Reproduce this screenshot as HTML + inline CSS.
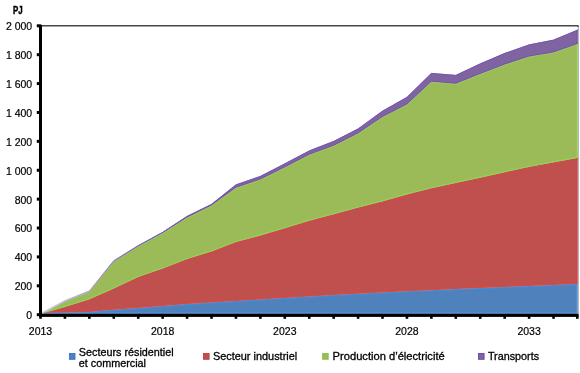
<!DOCTYPE html>
<html><head><meta charset="utf-8"><style>
html,body{margin:0;padding:0;background:#fff;width:580px;height:373px;overflow:hidden}
svg{position:absolute;left:0;top:0;will-change:transform}
.ax{font-family:"Liberation Sans",sans-serif;font-size:10.5px;fill:#000;stroke:#000;stroke-width:0.2px}
.lg{font-family:"Liberation Sans",sans-serif;font-size:10.8px;fill:#000;stroke:#000;stroke-width:0.3px}
.pj{font-family:"Liberation Sans",sans-serif;font-size:10.4px;font-weight:bold;fill:#000;stroke:#000;stroke-width:0.45px}
</style></head><body>
<svg width="580" height="373" viewBox="0 0 580 373">
<defs><linearGradient id="pg" gradientUnits="userSpaceOnUse" x1="40" y1="0" x2="180" y2="0"><stop offset="0" stop-color="#d6c8ee"/><stop offset="0.35" stop-color="#b8a0dc"/><stop offset="0.6" stop-color="#8c6ec2"/><stop offset="1" stop-color="#7650b0"/></linearGradient></defs>
<polygon points="40.5,314.0 64.9,312.8 89.4,311.9 113.8,309.7 138.2,308.0 162.7,306.0 187.1,304.0 211.5,302.5 235.9,301.0 260.4,299.5 284.8,298.0 309.2,296.5 333.7,295.0 358.1,293.8 382.5,292.5 406.9,291.3 431.4,290.2 455.8,289.0 480.2,288.0 504.7,287.0 529.1,286.0 553.5,285.0 577.6,284.0 577.6,314.0 553.5,314.0 529.1,314.0 504.7,314.0 480.2,314.0 455.8,314.0 431.4,314.0 406.9,314.0 382.5,314.0 358.1,314.0 333.7,314.0 309.2,314.0 284.8,314.0 260.4,314.0 235.9,314.0 211.5,314.0 187.1,314.0 162.7,314.0 138.2,314.0 113.8,314.0 89.4,314.0 64.9,314.0 40.5,314.0" fill="#4f81bd"/>
<polygon points="40.5,314.0 64.9,307.0 89.4,299.3 113.8,288.5 138.2,277.0 162.7,268.5 187.1,259.0 211.5,251.5 235.9,242.0 260.4,235.5 284.8,228.3 309.2,220.8 333.7,214.3 358.1,207.6 382.5,201.4 406.9,194.5 431.4,188.3 455.8,183.0 480.2,177.7 504.7,172.2 529.1,166.9 553.5,162.4 577.6,158.0 577.6,284.0 553.5,285.0 529.1,286.0 504.7,287.0 480.2,288.0 455.8,289.0 431.4,290.2 406.9,291.3 382.5,292.5 358.1,293.8 333.7,295.0 309.2,296.5 284.8,298.0 260.4,299.5 235.9,301.0 211.5,302.5 187.1,304.0 162.7,306.0 138.2,308.0 113.8,309.7 89.4,311.9 64.9,312.8 40.5,314.0" fill="#c0504d"/>
<polygon points="40.5,314.0 64.9,301.2 89.4,291.4 113.8,261.2 138.2,246.2 162.7,233.0 187.1,217.5 211.5,205.5 235.9,187.8 260.4,179.5 284.8,167.4 309.2,154.8 333.7,145.8 358.1,133.4 382.5,117.0 406.9,104.5 431.4,81.7 455.8,83.8 480.2,74.0 504.7,64.6 529.1,56.6 553.5,52.5 577.6,44.0 577.6,158.0 553.5,162.4 529.1,166.9 504.7,172.2 480.2,177.7 455.8,183.0 431.4,188.3 406.9,194.5 382.5,201.4 358.1,207.6 333.7,214.3 309.2,220.8 284.8,228.3 260.4,235.5 235.9,242.0 211.5,251.5 187.1,259.0 162.7,268.5 138.2,277.0 113.8,288.5 89.4,299.3 64.9,307.0 40.5,314.0" fill="#9bbb59"/>
<polygon points="40.5,314.0 64.9,300.8 89.4,291.0 113.8,260.8 138.2,245.5 162.7,232.0 187.1,216.0 211.5,204.0 235.9,184.5 260.4,176.0 284.8,163.4 309.2,150.6 333.7,141.0 358.1,128.6 382.5,110.8 406.9,97.0 431.4,73.0 455.8,75.0 480.2,63.5 504.7,53.1 529.1,44.5 553.5,39.7 577.6,29.7 577.6,44.0 553.5,52.5 529.1,56.6 504.7,64.6 480.2,74.0 455.8,83.8 431.4,81.7 406.9,104.5 382.5,117.0 358.1,133.4 333.7,145.8 309.2,154.8 284.8,167.4 260.4,179.5 235.9,187.8 211.5,205.5 187.1,217.5 162.7,233.0 138.2,246.2 113.8,261.2 89.4,291.4 64.9,301.2 40.5,314.0" fill="#8064a2"/>
<polyline points="40.5,314.6 64.9,313.4 89.4,312.5 113.8,310.3 138.2,308.6 162.7,306.6 187.1,304.6 211.5,303.1 235.9,301.6 260.4,300.1 284.8,298.6 309.2,297.1 333.7,295.6 358.1,294.4 382.5,293.1 406.9,291.9 431.4,290.8 455.8,289.6 480.2,288.6 504.7,287.6 529.1,286.6 553.5,285.6 577.6,284.6" fill="none" stroke="#3f8de4" stroke-width="0.9"/>
<polyline points="40.5,313.4 64.9,312.2 89.4,311.3 113.8,309.1 138.2,307.4 162.7,305.4 187.1,303.4 211.5,301.9 235.9,300.4 260.4,298.9 284.8,297.4 309.2,295.9 333.7,294.4 358.1,293.2 382.5,291.9 406.9,290.7 431.4,289.6 455.8,288.4 480.2,287.4 504.7,286.4 529.1,285.4 553.5,284.4 577.6,283.4" fill="none" stroke="#de4a3c" stroke-width="0.9"/>
<polyline points="40.5,314.6 64.9,307.6 89.4,299.9 113.8,289.1 138.2,277.6 162.7,269.1 187.1,259.6 211.5,252.1 235.9,242.6 260.4,236.1 284.8,228.9 309.2,221.4 333.7,214.9 358.1,208.2 382.5,202.0 406.9,195.1 431.4,188.9 455.8,183.6 480.2,178.3 504.7,172.8 529.1,167.5 553.5,163.0 577.6,158.6" fill="none" stroke="#d84452" stroke-width="1.1"/>
<polyline points="40.5,313.4 64.9,306.4 89.4,298.7 113.8,287.9 138.2,276.4 162.7,267.9 187.1,258.4 211.5,250.9 235.9,241.4 260.4,234.9 284.8,227.7 309.2,220.2 333.7,213.7 358.1,207.0 382.5,200.8 406.9,193.9 431.4,187.7 455.8,182.4 480.2,177.1 504.7,171.6 529.1,166.3 553.5,161.8 577.6,157.4" fill="none" stroke="#8fd452" stroke-width="1.1"/>
<polyline points="40.5,314.6 64.9,301.8 89.4,292.0 113.8,261.8 138.2,246.8 162.7,233.6 187.1,218.1 211.5,206.1 235.9,188.4 260.4,180.1 284.8,168.0 309.2,155.4 333.7,146.4 358.1,134.0 382.5,117.6 406.9,105.1 431.4,82.3 455.8,84.4 480.2,74.6 504.7,65.2 529.1,57.2 553.5,53.1 577.6,44.6" fill="none" stroke="#90d050" stroke-width="0.9"/>
<polyline points="40.5,313.4 64.9,300.6 89.4,290.8 113.8,260.6 138.2,245.6 162.7,232.4 187.1,216.9 211.5,204.9 235.9,187.2 260.4,178.9 284.8,166.8 309.2,154.2 333.7,145.2 358.1,132.8 382.5,116.4 406.9,103.9 431.4,81.1 455.8,83.2 480.2,73.4 504.7,64.0 529.1,56.0 553.5,51.9 577.6,43.4" fill="none" stroke="url(#pg)" stroke-width="0.9"/>
<polyline points="40.5,314.4 64.9,301.2 89.4,291.4 113.8,261.2 138.2,245.9 162.7,232.4 187.1,216.4 211.5,204.4 235.9,184.9 260.4,176.4 284.8,163.8 309.2,151.0 333.7,141.4 358.1,129.0 382.5,111.2 406.9,97.4 431.4,73.4 455.8,75.4 480.2,63.9 504.7,53.5 529.1,44.9 553.5,40.1 577.6,30.1" fill="none" stroke="url(#pg)" stroke-width="0.9"/>
<line x1="44" y1="313.1" x2="577.6" y2="313.1" stroke="#5a9ae6" stroke-width="0.9"/>
<line x1="41" y1="25.8" x2="578" y2="25.8" stroke="#484848" stroke-width="1.4"/>
<line x1="578.3" y1="25" x2="578.3" y2="316" stroke="#8a8a8a" stroke-width="0.8"/>
<line x1="577.1" y1="284" x2="577.1" y2="313.5" stroke="#5a9ae6" stroke-width="0.9"/>
<line x1="577.1" y1="158" x2="577.1" y2="284" stroke="#d84452" stroke-width="0.9"/>
<line x1="577.1" y1="44" x2="577.1" y2="158" stroke="#8fd452" stroke-width="0.9"/>
<line x1="577.1" y1="29.7" x2="577.1" y2="44" stroke="#6e48a8" stroke-width="0.9"/>
<path d="M577.3,25.8 Q578.3,25.8 578.3,27" fill="none" stroke="#404040" stroke-width="1.2"/>
<rect x="39" y="25" width="3" height="291.5" fill="#000"/>
<rect x="39" y="313.8" width="539.5" height="3.1" fill="#000"/>
<rect x="36.8" y="313.20" width="4.5" height="3" fill="#000"/>
<rect x="36.8" y="284.31" width="4.5" height="3" fill="#000"/>
<rect x="36.8" y="255.42" width="4.5" height="3" fill="#000"/>
<rect x="36.8" y="226.53" width="4.5" height="3" fill="#000"/>
<rect x="36.8" y="197.64" width="4.5" height="3" fill="#000"/>
<rect x="36.8" y="168.75" width="4.5" height="3" fill="#000"/>
<rect x="36.8" y="139.86" width="4.5" height="3" fill="#000"/>
<rect x="36.8" y="110.97" width="4.5" height="3" fill="#000"/>
<rect x="36.8" y="82.08" width="4.5" height="3" fill="#000"/>
<rect x="36.8" y="53.19" width="4.5" height="3" fill="#000"/>
<rect x="36.8" y="24.30" width="4.5" height="3" fill="#000"/>
<rect x="39.20" y="315.5" width="2.6" height="3.3" fill="#000"/>
<rect x="63.63" y="315.5" width="2.6" height="3.3" fill="#000"/>
<rect x="88.06" y="315.5" width="2.6" height="3.3" fill="#000"/>
<rect x="112.49" y="315.5" width="2.6" height="3.3" fill="#000"/>
<rect x="136.92" y="315.5" width="2.6" height="3.3" fill="#000"/>
<rect x="161.35" y="315.5" width="2.6" height="3.3" fill="#000"/>
<rect x="185.78" y="315.5" width="2.6" height="3.3" fill="#000"/>
<rect x="210.21" y="315.5" width="2.6" height="3.3" fill="#000"/>
<rect x="234.64" y="315.5" width="2.6" height="3.3" fill="#000"/>
<rect x="259.07" y="315.5" width="2.6" height="3.3" fill="#000"/>
<rect x="283.50" y="315.5" width="2.6" height="3.3" fill="#000"/>
<rect x="307.93" y="315.5" width="2.6" height="3.3" fill="#000"/>
<rect x="332.36" y="315.5" width="2.6" height="3.3" fill="#000"/>
<rect x="356.79" y="315.5" width="2.6" height="3.3" fill="#000"/>
<rect x="381.22" y="315.5" width="2.6" height="3.3" fill="#000"/>
<rect x="405.65" y="315.5" width="2.6" height="3.3" fill="#000"/>
<rect x="430.08" y="315.5" width="2.6" height="3.3" fill="#000"/>
<rect x="454.51" y="315.5" width="2.6" height="3.3" fill="#000"/>
<rect x="478.94" y="315.5" width="2.6" height="3.3" fill="#000"/>
<rect x="503.37" y="315.5" width="2.6" height="3.3" fill="#000"/>
<rect x="527.80" y="315.5" width="2.6" height="3.3" fill="#000"/>
<rect x="552.23" y="315.5" width="2.6" height="3.3" fill="#000"/>
<rect x="576.00" y="315.5" width="2.6" height="3.3" fill="#000"/>
<text x="32.2" y="319.10" text-anchor="end" class="ax">0</text>
<text x="32.2" y="290.21" text-anchor="end" class="ax">200</text>
<text x="32.2" y="261.32" text-anchor="end" class="ax">400</text>
<text x="32.2" y="232.43" text-anchor="end" class="ax">600</text>
<text x="32.2" y="203.54" text-anchor="end" class="ax">800</text>
<text x="32.2" y="174.65" text-anchor="end" class="ax">1 000</text>
<text x="32.2" y="145.76" text-anchor="end" class="ax">1 200</text>
<text x="32.2" y="116.87" text-anchor="end" class="ax">1 400</text>
<text x="32.2" y="87.98" text-anchor="end" class="ax">1 600</text>
<text x="32.2" y="59.09" text-anchor="end" class="ax">1 800</text>
<text x="32.2" y="30.20" text-anchor="end" class="ax">2 000</text>
<text x="40.50" y="334.6" text-anchor="middle" class="ax">2013</text>
<text x="162.65" y="334.6" text-anchor="middle" class="ax">2018</text>
<text x="284.80" y="334.6" text-anchor="middle" class="ax">2023</text>
<text x="406.95" y="334.6" text-anchor="middle" class="ax">2028</text>
<text x="529.10" y="334.6" text-anchor="middle" class="ax">2033</text>
<text class="pj" x="0" y="0" transform="translate(12.9,13.8) scale(0.76,1)">PJ</text>
<rect x="69.4" y="353.5" width="5.6" height="5.8" fill="#4f81bd" stroke="#3a72c6" stroke-width="0.9"/>
<text class="lg" x="78.8" y="355.5">Secteurs résidentiel</text>
<text class="lg" x="78.8" y="366.9">et commercial</text>
<rect x="203.5" y="353.5" width="5.6" height="5.8" fill="#c0504d" stroke="#c83c40" stroke-width="0.9"/>
<text class="lg" x="212.9" y="359.6" textLength="84.3" lengthAdjust="spacingAndGlyphs">Secteur industriel</text>
<rect x="322.6" y="353.5" width="5.6" height="5.8" fill="#9bbb59" stroke="#8cc246" stroke-width="0.9"/>
<text class="lg" x="332.6" y="359.6" textLength="112.1" lengthAdjust="spacingAndGlyphs">Production d’électricité</text>
<rect x="478.5" y="353.5" width="5.6" height="5.8" fill="#8064a2" stroke="#6a44a8" stroke-width="0.9"/>
<text class="lg" x="487.9" y="359.6">Transports</text>
</svg>
</body></html>
